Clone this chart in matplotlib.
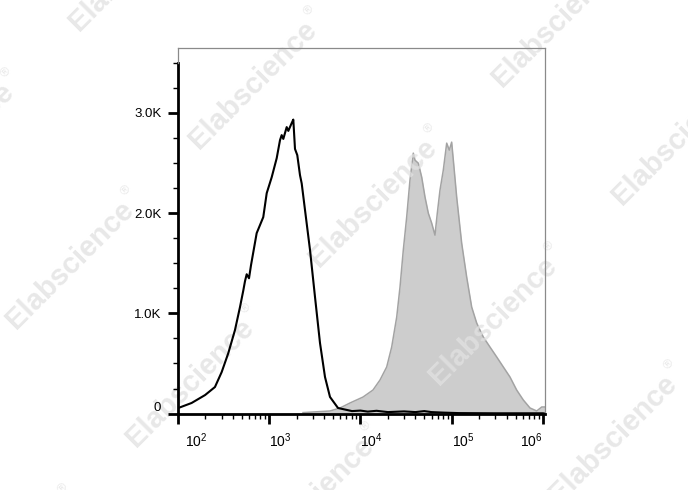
import matplotlib
matplotlib.use("Agg")
import matplotlib.pyplot as plt
import matplotlib.transforms as mtrans
from matplotlib.ticker import MultipleLocator, LogLocator, NullFormatter
import numpy as np

plt.rcParams['font.family'] = ['Liberation Sans', 'DejaVu Sans']
plt.rcParams['mathtext.fontset'] = 'custom'
plt.rcParams['mathtext.rm'] = 'Liberation Sans'
plt.rcParams['mathtext.it'] = 'Liberation Sans:italic'

# unstained control (black outline)
ctrl_x = [100.8, 141, 198, 254, 301, 356, 421, 478, 520, 542, 566, 600, 631, 728, 860, 938,
          1064, 1207, 1312, 1368, 1426, 1553, 1618, 1762, 1835, 1915, 2029, 2172, 2268, 2466,
          2798, 3173, 3599, 4083, 4631, 5666, 8068, 1.0e4, 1.2e4, 1.5e4, 2.0e4, 3.0e4, 4.0e4,
          5.0e4, 6.0e4, 8.0e4, 1.2e5, 3.0e5, 1.0e6, 1.05e6]
ctrl_y = [56, 106, 185, 265, 414, 604, 833, 1063, 1230, 1320, 1390, 1350, 1480, 1800, 1960, 2199,
          2358, 2548, 2728, 2778, 2740, 2858, 2820, 2898, 2933, 2640, 2578, 2379, 2296, 2030,
          1631, 1163, 704, 365, 166, 56, 25, 30, 20, 28, 15, 22, 15,
          25, 15, 10, 5, 3, 3, 0]

# stained sample (grey filled)
stain_x = [2344, 4631, 5962, 7675, 10650, 13700, 16360, 19370, 21970, 24940, 27100, 29450,
           32080, 34850, 37910, 39560, 43030, 46880, 50960, 55390, 60290, 65500, 69460, 74310,
           80790, 88050, 94000, 99800, 105800, 113300, 128500, 145800, 165400, 187700, 221700,
           262500, 311000, 367600, 434900, 514900, 608300, 720800, 853500, 968700, 1052000]
stain_y = [10, 26, 56, 106, 165, 235, 335, 465, 664, 963, 1262, 1631,
           1960, 2329, 2598, 2528, 2498, 2358, 2159, 1999, 1900, 1780, 1999, 2228,
           2428, 2698, 2628, 2708, 2458, 2159, 1700, 1362, 1063, 903, 764,
           664, 565, 465, 365, 235, 136, 56, 26, 66, 66]

y_ticks = [0, 1000, 2000, 3000]
y_labels = ['0', '1.0K', '2.0K', '3.0K']
x_ticks = [1e2, 1e3, 1e4, 1e5, 1e6]
x_labels = [r'$10^{2}$', r'$10^{3}$', r'$10^{4}$', r'$10^{5}$', r'$10^{6}$']

W, H = 688, 490
fig = plt.figure(figsize=(W / 100, H / 100), dpi=100)
ax = fig.add_axes([178 / W, 1 - 413.6 / H, (545 - 178) / W, (413.6 - 47.7) / H])

ax.fill_between(stain_x, stain_y, 0, color='#cdcdcd', lw=0, zorder=1)
ax.plot(stain_x, stain_y, color='#a3a3a3', lw=1.1, zorder=1.1)
ax.plot(ctrl_x, ctrl_y, color='black', lw=1.5, zorder=2)

ax.set_xscale('log')
ax.set_xlim(1e2, 10 ** 6.022)
ax.set_ylim(0, 3650)

ax.set_xticks(x_ticks, labels=x_labels)
ax.xaxis.set_minor_locator(LogLocator(base=10, subs=np.arange(2, 10)))
ax.xaxis.set_minor_formatter(NullFormatter())
ax.set_yticks(y_ticks, labels=y_labels)
ax.yaxis.set_minor_locator(MultipleLocator(250))

ax.tick_params(axis='x', which='major', length=7.5, width=2.0, pad=5, labelsize=10)
ax.tick_params(axis='x', which='minor', length=3.8, width=1.0)
ax.tick_params(axis='y', which='major', length=7, width=2.0, pad=5, labelsize=9.5)
ax.tick_params(axis='y', which='minor', length=3.8, width=1.0)
ax.tick_params(colors='black')

for sp in ['top', 'right']:
    ax.spines[sp].set_color('#8a8a8a')
    ax.spines[sp].set_linewidth(0.9)
ax.spines['bottom'].set_linewidth(2.0)
ax.spines['left'].set_linewidth(2.0)
ax.spines['left'].set_bounds(0, 3500)
ax.plot([0, 0], [3500 / 3650, 1], transform=ax.transAxes, color='#8a8a8a', lw=0.9,
        clip_on=False, zorder=3)

# FlowJo style tick label placement
for i, t in enumerate(ax.xaxis.get_major_ticks()):
    if i == len(x_ticks) - 1:
        t.label1.set_horizontalalignment('right')
    else:
        t.label1.set_horizontalalignment('left')
    if i == 0:
        t.label1.set_transform(t.label1.get_transform() +
                               mtrans.ScaledTranslation(5 / 72, 0, fig.dpi_scale_trans))
ax.yaxis.get_major_ticks()[0].label1.set_verticalalignment('bottom')

# watermark
a = np.array([120, 118])
b = np.array([183, -180])
o = np.array([199, 150])
d = np.array([1, -1]) / np.sqrt(2)
up = np.array([-1, -1]) / np.sqrt(2)
for i in range(-3, 5):
    for j in range(-3, 3):
        s = o + i * a + j * b
        end = s + 178 * d
        if end[0] < -20 or s[0] > W + 20 or end[1] > H + 20 or s[1] < -20:
            continue
        ax.text(s[0] / W, 1 - s[1] / H, 'Elabscience', transform=fig.transFigure,
                fontsize=21, fontweight='bold', color='#e1e1e1', alpha=0.76,
                rotation=45, rotation_mode='anchor', ha='left', va='baseline',
                clip_on=False, zorder=1.5)
        r = s + 172 * d + 18 * up
        ax.text(r[0] / W, 1 - r[1] / H, '®', transform=fig.transFigure,
                fontsize=9, color='#e1e1e1', alpha=0.76,
                rotation=45, rotation_mode='anchor', ha='left', va='baseline',
                clip_on=False, zorder=1.5)

fig.savefig('out.png', dpi=100)
